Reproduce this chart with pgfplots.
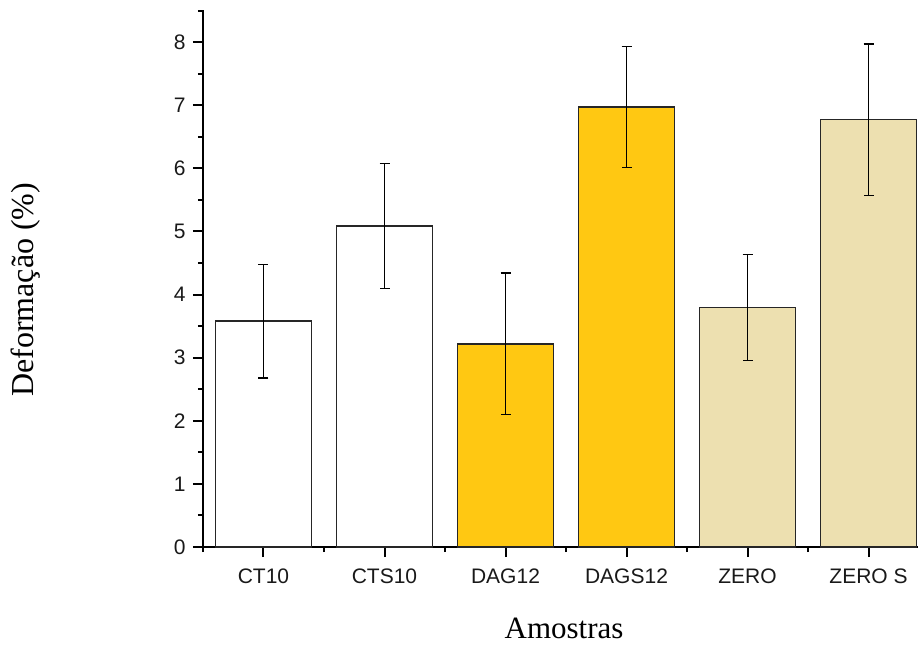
\documentclass[border=0pt]{standalone}
\usepackage{pgfplots}
\pgfplotsset{compat=1.18}
\usepackage{fontspec}
\setmainfont{Liberation Serif}
\newfontfamily\arial{Liberation Sans}
\definecolor{gold}{RGB}{255,200,18}
\definecolor{beige}{RGB}{237,224,176}
\begin{document}
\begin{tikzpicture}
\begin{axis}[
  at={(0,0)}, anchor=south west,
  width=715pt, height=537pt, scale only axis,
  xmin=-0.5, xmax=5.409, ymin=0, ymax=8.51,
  separate axis lines,
  axis x line*=bottom, axis y line*=left,
  axis line style={-, line width=2pt},
  xtick={0,1,2,3,4,5},
  xticklabels={CT10,CTS10,DAG12,DAGS12,ZERO,ZERO S},
  minor xtick={-0.5,0.5,1.5,2.5,3.5,4.5},
  ytick={0,1,...,8},
  minor ytick={0.5,1.5,...,7.5,8.5},
  tick align=outside,
  major tick length=10pt, minor tick length=5pt,
  every tick/.style={black, line width=2pt},
  ticklabel style={font=\arial\fontsize{21}{25}\selectfont, text=black!90},
  /pgf/number format/assume math mode=true,
  xticklabel style={yshift=-8pt},
  yticklabel style={xshift=-4pt},
  xlabel={Amostras}, ylabel={Deformação (\%)},
  xlabel style={at={(axis description cs:0.505,-0.152)}, anchor=center, font=\fontsize{31}{36}\selectfont},
  ylabel style={at={(axis description cs:-0.2476,0.479)}, anchor=center, font=\fontsize{32}{38}\selectfont},
  ybar, bar width=96pt, bar shift=0pt,
  clip=false,
  error bars/y dir=both, error bars/y explicit,
  error bars/error bar style={line width=1.4pt, black},
  error bars/error mark options={rotate=90, mark size=5pt, line width=1.4pt, black},
]
\addplot[draw=black!85, line width=1.4pt, fill=white] coordinates {
  (0,3.58) +- (0,0.90)
  (1,5.09) +- (0,0.99)
};
\addplot[draw=black!85, line width=1.4pt, fill=gold] coordinates {
  (2,3.22) +- (0,1.12)
  (3,6.97) +- (0,0.96)
};
\addplot[draw=black!85, line width=1.4pt, fill=beige] coordinates {
  (4,3.80) +- (0,0.84)
  (5,6.77) +- (0,1.20)
};
\end{axis}
\pgfresetboundingbox
\path[use as bounding box] (-203pt,-99pt) rectangle (715pt,547pt);
\end{tikzpicture}
\end{document}
